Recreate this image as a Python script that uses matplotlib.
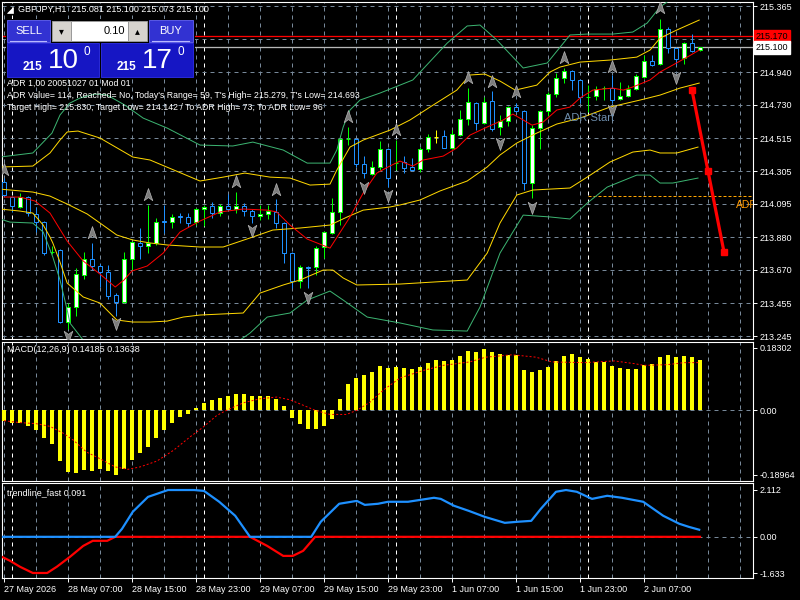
import numpy as np
import matplotlib.pyplot as plt
from matplotlib.patches import Rectangle, Polygon
from matplotlib.path import Path
from matplotlib.transforms import blended_transform_factory

plt.rcParams['font.family'] = ['Liberation Sans', 'DejaVu Sans']

# ---------------- data (GBPJPY H1, 27 May 23:00 .. 2 Jun 14:00) ----------------
opens = [214.234, 214.138, 214.074, 214.138, 214.029, 213.977, 213.783, 213.798, 213.335, 213.431,
         213.637, 213.740, 213.695, 213.656, 213.508, 213.463, 213.740, 213.843, 213.823, 213.843,
         213.984, 213.977, 214.016, 214.010, 213.977, 214.061, 214.080, 214.035, 214.080, 214.061,
         214.080, 214.048, 214.016, 214.029, 214.042, 213.971, 213.778, 213.598, 213.688, 213.688,
         213.817, 213.907, 214.042, 214.509, 214.511, 214.350, 214.286, 214.331, 214.446, 214.354,
         214.363, 214.331, 214.318, 214.446, 214.523, 214.530, 214.453, 214.536, 214.639, 214.742,
         214.613, 214.755, 214.588, 214.626, 214.716, 214.690, 214.228, 214.581, 214.690, 214.800,
         214.902, 214.947, 214.890, 214.778, 214.787, 214.836, 214.838, 214.768, 214.787, 214.832,
         214.909, 215.012, 214.992, 215.217, 215.095, 215.031, 215.127, 215.081]
highs = [214.260, 214.144, 214.164, 214.144, 214.074, 213.984, 213.823, 213.804, 213.457, 213.682,
         213.785, 213.843, 213.708, 213.701, 213.521, 213.785, 213.855, 213.939, 214.087, 214.003,
         214.087, 214.029, 214.035, 214.035, 214.067, 214.087, 214.106, 214.093, 214.157, 214.170,
         214.099, 214.061, 214.087, 214.087, 214.125, 213.977, 213.785, 213.701, 213.695, 213.823,
         213.920, 214.132, 214.517, 214.588, 214.517, 214.401, 214.369, 214.498, 214.453, 214.504,
         214.401, 214.389, 214.459, 214.543, 214.568, 214.568, 214.568, 214.697, 214.838, 214.748,
         214.780, 214.819, 214.665, 214.723, 214.742, 214.697, 214.600, 214.697, 214.812, 214.934,
         214.967, 214.954, 214.896, 214.857, 214.851, 214.851, 214.922, 214.877, 214.857, 214.928,
         215.050, 215.050, 215.281, 215.230, 215.102, 215.134, 215.185, 215.100]
lows = [214.138, 214.042, 214.067, 214.016, 213.913, 213.765, 213.772, 213.329, 213.290, 213.373,
        213.611, 213.669, 213.560, 213.483, 213.373, 213.457, 213.669, 213.740, 213.778, 213.830,
        213.907, 213.939, 213.971, 213.945, 213.958, 213.952, 214.003, 214.016, 214.048, 214.035,
        214.016, 213.971, 213.990, 213.997, 213.939, 213.714, 213.553, 213.553, 213.553, 213.637,
        213.746, 213.900, 213.958, 214.472, 214.331, 214.260, 214.279, 214.311, 214.202, 214.311,
        214.292, 214.305, 214.299, 214.427, 214.485, 214.453, 214.446, 214.530, 214.600, 214.568,
        214.607, 214.562, 214.536, 214.594, 214.684, 214.183, 214.132, 214.446, 214.658, 214.780,
        214.870, 214.825, 214.742, 214.684, 214.761, 214.761, 214.742, 214.761, 214.780, 214.825,
        214.902, 214.980, 214.986, 215.063, 214.986, 214.992, 215.069, 215.073]
closes = [214.151, 214.080, 214.138, 214.035, 213.977, 213.778, 213.785, 213.335, 213.431, 213.643,
          213.740, 213.695, 213.656, 213.502, 213.463, 213.740, 213.849, 213.823, 213.843, 213.977,
          213.977, 214.010, 214.010, 213.971, 214.061, 214.074, 214.035, 214.080, 214.061, 214.080,
          214.048, 214.016, 214.029, 214.048, 213.971, 213.778, 213.598, 213.688, 213.682, 213.810,
          213.913, 214.042, 214.511, 214.511, 214.350, 214.292, 214.331, 214.446, 214.260, 214.356,
          214.324, 214.311, 214.446, 214.523, 214.523, 214.453, 214.543, 214.639, 214.748, 214.613,
          214.748, 214.575, 214.626, 214.716, 214.690, 214.228, 214.581, 214.690, 214.800, 214.902,
          214.947, 214.890, 214.780, 214.780, 214.832, 214.838, 214.761, 214.787, 214.832, 214.915,
          215.012, 214.986, 215.217, 215.095, 215.024, 215.127, 215.076, 215.100]

# moving average (red) and bollinger bands, read at sample bars
ma_idx = [0, 2, 3.9, 5.75, 7.9, 9.9, 12, 13.9, 15, 16, 17.9, 19.9, 21, 22, 24.5, 27, 29.9, 32.9, 34.1,
          35.75, 37.9, 40.75, 43.25, 44.9, 46.6, 48, 49.5, 51.1, 52.4, 54.9, 56.6, 58.25, 60.4, 62.4,
          63.6, 64.9, 66, 67.4, 69.1, 70.75, 72, 73.6, 76.1, 77.4, 78.6, 80.75, 82, 83.6, 85.4, 86.9]
ma_val = [214.138, 214.138, 214.112, 214.035, 213.855, 213.727, 213.643, 213.560, 213.605, 213.663,
          213.695, 213.778, 213.849, 213.913, 213.984, 214.042, 214.061, 214.054, 214.042, 213.958,
          213.868, 213.810, 214.010, 214.164, 214.292, 214.331, 214.369, 214.337, 214.376, 214.401,
          214.453, 214.536, 214.588, 214.633, 214.671, 214.633, 214.600, 214.620, 214.697, 214.716,
          214.774, 214.825, 214.838, 214.825, 214.845, 214.890, 214.941, 214.986, 215.037, 215.082]

bb_up_idx = [-0.5, 3.6, 5.75, 7, 7.9, 9.25, 12, 16.1, 18.25, 24.5, 27.4, 30.1, 33.25, 35.75, 38.25,
             40.75, 41.6, 43.25, 44.9, 48.25, 50.75, 53.25, 56.6, 58.25, 60.1, 62, 63.9, 66.6, 68.25,
             69.5, 72, 75.75, 79.1, 80.75, 82, 84.1, 86.9]
bb_up_val = [214.331, 214.337, 214.421, 214.504, 214.556, 214.562, 214.517, 214.395, 214.376, 214.241,
             214.266, 214.292, 214.266, 214.260, 214.215, 214.221, 214.311, 214.459, 214.504, 214.568,
             214.633, 214.716, 214.825, 214.922, 214.928, 214.883, 214.825, 214.857, 214.941, 214.973,
             215.005, 215.018, 215.037, 215.082, 215.159, 215.211, 215.275]

bb_mid_idx = [-0.5, 3.6, 5.75, 7.9, 10.4, 12, 14.1, 16.1, 18.25, 20.4, 24.5, 27.4, 30.75, 33.6, 37,
              40.75, 42.9, 44.9, 48.25, 49.5, 52, 54.5, 57.9, 60.4, 62, 64.1, 66.6, 69.1, 72, 75.75,
              79.5, 82, 84.5, 86.9]
bb_mid_val = [214.189, 214.170, 214.144, 214.093, 214.029, 213.971, 213.894, 213.862, 213.843, 213.830,
              213.817, 213.817, 213.875, 213.926, 213.939, 213.958, 214.010, 214.054, 214.074, 214.087,
              214.119, 214.177, 214.241, 214.331, 214.408, 214.485, 214.549, 214.607, 214.645, 214.716,
              214.761, 214.793, 214.838, 214.870]

bb_lo_idx = [-0.5, 2, 3.6, 4.9, 5.75, 6.1, 7, 7.9, 9.9, 12, 14.1, 16.1, 18.25, 20.4, 22.4, 24.5,
             29.9, 32, 34.9, 37, 39.9, 41.1, 42.4, 44.1, 49.5, 57.9, 60.4, 62, 64.1, 66.1, 70.75,
             72.9, 75.75, 78.6, 80.75, 82, 84.1, 86.75]
bb_lo_val = [214.061, 214.048, 214.035, 213.958, 213.881, 213.843, 213.720, 213.585, 213.496, 213.457,
             213.348, 213.335, 213.335, 213.341, 213.367, 213.380, 213.393, 213.521, 213.573, 213.605,
             213.669, 213.669, 213.618, 213.573, 213.579, 213.605, 213.778, 213.971, 214.151, 214.183,
             214.196, 214.266, 214.363, 214.427, 214.440, 214.421, 214.421, 214.459]

wide_up_idx = [-0.5, 3.6, 6, 7, 8.25, 9.5, 11.4, 12.9, 15.1, 17.4, 20.4, 24.5, 28.6, 31.1, 34.9,
               37.9, 40.75, 41.6, 42.4, 43.25, 44.5, 47, 51.1, 55.4, 57.9, 59.5, 61.6, 64.9, 67.9,
               70.75, 72.9, 76.1, 78.6, 80.4, 82, 83.25, 86.9]
wide_up_val = [214.395, 214.421, 214.549, 214.665, 214.742, 214.774, 214.800, 214.793, 214.729, 214.645,
               214.581, 214.472, 214.466, 214.491, 214.440, 214.356, 214.356, 214.440, 214.588, 214.697,
               214.761, 214.806, 214.890, 215.127, 215.237, 215.243, 215.147, 214.967, 214.999, 215.179,
               215.185, 215.185, 215.198, 215.256, 215.359, 215.404, 215.481]

wide_lo_idx = [-0.5, 0.75, 3.6, 4.9, 6.1, 7, 7.9, 8.25, 9.9, 12, 18.25, 24.5, 28.6, 30.75, 32.9,
               35.75, 37.9, 40.75, 42.4, 45.4, 49.5, 53.6, 57.9, 59.5, 62, 64.9, 68.25, 70.75, 72.9,
               75.4, 79.1, 80.75, 82, 83.6, 86.75]
wide_lo_val = [213.997, 213.977, 213.971, 213.913, 213.753, 213.605, 213.412, 213.328, 213.219, 213.187,
               213.091, 213.142, 213.187, 213.264, 213.367, 213.393, 213.476, 213.534, 213.476, 213.367,
               213.329, 213.284, 213.277, 213.431, 213.778, 214.022, 214.010, 213.997, 214.099, 214.202,
               214.279, 214.279, 214.228, 214.228, 214.260]

# fractal-like arrows
up_idx = [0, 11, 18, 29, 34, 43, 49, 58, 61, 64, 70, 76, 82]
up_price = [214.311, 213.907, 214.151, 214.234, 214.183, 214.652, 214.568, 214.902, 214.877,
            214.812, 215.031, 214.973, 215.352]
dn_idx = [8, 14, 31, 38, 45, 48, 62, 66, 76, 84]
dn_price = [213.245, 213.328, 213.926, 213.496, 214.202, 214.151, 214.485, 214.074, 214.697, 214.909]

# ADR projection and levels
proj_idx = [86, 88, 90]
proj_price = [214.825, 214.305, 213.785]
adr_low = 214.142
adr_start_idx = 73
ask_line = 215.170
bid_line = 215.100

# MACD
macd_hist = [-0.032, -0.036, -0.036, -0.047, -0.057, -0.081, -0.100, -0.149, -0.181, -0.184,
             -0.176, -0.178, -0.173, -0.179, -0.190, -0.172, -0.145, -0.124, -0.108, -0.081,
             -0.059, -0.037, -0.020, -0.010, 0.008, 0.022, 0.029, 0.037, 0.041, 0.047,
             0.047, 0.043, 0.041, 0.041, 0.034, 0.012, -0.022, -0.041, -0.054, -0.054,
             -0.046, -0.026, 0.032, 0.076, 0.095, 0.103, 0.112, 0.129, 0.123, 0.127,
             0.123, 0.120, 0.127, 0.139, 0.147, 0.144, 0.147, 0.159, 0.173, 0.170,
             0.179, 0.170, 0.164, 0.163, 0.162, 0.117, 0.112, 0.117, 0.127, 0.145,
             0.159, 0.164, 0.156, 0.150, 0.143, 0.142, 0.130, 0.124, 0.121, 0.121,
             0.133, 0.135, 0.156, 0.162, 0.156, 0.159, 0.156, 0.148]
sig_idx = [-0.5, 2, 4, 5.75, 7.4, 8.7, 10.3, 12, 13.9, 15.5, 17, 19.1, 21.2, 23.25, 24.9, 26.6, 27.8,
           29.9, 32, 34.1, 35.75, 37.4, 38.9, 40.75, 42.8, 44.1, 45.75, 47.4, 49.5, 52.4, 54.9, 58.2,
           60.2, 63.5, 64.4, 66.5, 68.5, 72.6, 76.3, 78.8, 80, 82.9, 85, 87]
sig_val = [-0.029, -0.036, -0.039, -0.047, -0.067, -0.088, -0.122, -0.142, -0.166, -0.173, -0.166,
           -0.149, -0.117, -0.078, -0.049, -0.015, 0.0, 0.022, 0.034, 0.039, 0.031, 0.015, 0.0,
           -0.012, -0.012, 0.0, 0.024, 0.059, 0.095, 0.117, 0.132, 0.142, 0.156, 0.163, 0.161,
           0.156, 0.142, 0.140, 0.145, 0.137, 0.132, 0.134, 0.140, 0.140]

# trendline_fast
up_tr_idx = [-0.5, 13.9, 14.75, 16.1, 18, 20.5, 23.75, 25, 26.9, 28.9, 30.75, 38.4, 39.6, 41.9,
             44.1, 45.1, 46.75, 48, 50.5, 53.75, 54.6, 56.25, 58.1, 60.1, 62.6, 64.25, 65.9, 67.1,
             69, 70.25, 71.6, 73.5, 75.4, 77.25, 79.9, 82.4, 84.4, 85.6, 86.9]
up_tr_val = [0, 0, 0.36, 1.13, 1.80, 2.11, 2.11, 2.07, 1.58, 0.95, 0, 0, 0.68, 1.49, 1.62, 1.44,
             1.49, 1.58, 1.58, 1.76, 1.71, 1.40, 1.17, 0.90, 0.63, 0.68, 0.72, 1.26, 2.03, 2.11,
             2.03, 1.71, 1.85, 1.76, 1.58, 0.95, 0.59, 0.45, 0.32]
dn_tr_idx = [-0.5, 0.75, 2, 3.6, 5.4, 6.6, 8.25, 9.9, 11.1, 12.9, 13.9, 30.75, 32.9, 34.9, 36.1,
             37.4, 38.9, 87]
dn_tr_val = [-0.86, -1.08, -1.35, -1.63, -1.63, -1.35, -0.90, -0.41, -0.18, -0.18, 0, 0, -0.41,
             -0.86, -0.86, -0.63, 0, 0]

# axis labels
price_ticks = [215.365, 214.940, 214.730, 214.515, 214.305, 214.095, 213.880, 213.670, 213.455, 213.245]
price_grid = [215.365, 215.155, 214.940, 214.730, 214.515, 214.305, 214.095, 213.880, 213.670, 213.455, 213.245]
time_idx = [0, 8, 16, 24, 32, 40, 48, 56, 64, 72, 80]
time_labels = ['27 May 2026', '28 May 07:00', '28 May 15:00', '28 May 23:00', '29 May 07:00',
               '29 May 15:00', '29 May 23:00', '1 Jun 07:00', '1 Jun 15:00', '1 Jun 23:00', '2 Jun 07:00']
day_sep = [1, 25, 49, 73]

# ---------------- drawing ----------------
PX = 0.72            # one pixel in points
XL = (-0.25, 93.625)
GRID = '#778899'
DASH = (0, (4, 4))

fig = plt.figure(figsize=(8, 6), dpi=100, facecolor='black')
ax = fig.add_axes([2/800, 261/600, 751/800, 337/600])
ax_m = fig.add_axes([2/800, 119.5/600, 751/800, 139/600])
ax_t = fig.add_axes([2/800, 21.7/600, 751/800, 95.6/600])

for a in (ax, ax_m, ax_t):
    a.set_facecolor('black')
    a.set_xlim(*XL)
    for s in a.spines.values():
        s.set_color('white')
        s.set_linewidth(0.8)
    a.yaxis.tick_right()
    a.tick_params(axis='y', colors='white', labelsize=6.5, length=3, width=0.7, pad=2)
    a.tick_params(axis='x', bottom=False, labelbottom=False)
    for g in range(0, 93, 4):
        a.axvline(g, color=GRID, lw=PX, ls=DASH, zorder=1)
    for d in day_sep:
        a.axvline(d, color='white', lw=PX, ls=DASH, zorder=1)

# main chart
ax.set_ylim(213.226, 215.391)
for lv in price_grid:
    ax.axhline(lv, color=GRID, lw=PX, ls=DASH, zorder=1)
ax.set_yticks(price_ticks)
ax.set_yticklabels(['%.3f' % p for p in price_ticks])

ax.axhline(ask_line, color='#ff0000', lw=PX * 1.3, zorder=2)
ax.axhline(bid_line, color='#b8b8b8', lw=PX * 1.3, zorder=2)
ax.hlines(adr_low, adr_start_idx, XL[1], color='#ffa500', lw=PX, linestyles=(0, (3, 2)), zorder=2)

for i, (o, h, l, c) in enumerate(zip(opens, highs, lows, closes)):
    if c > o:
        ec, fc = '#00ff00', 'white'
    elif c < o:
        ec, fc = '#1e90ff', 'black'
    else:
        ec, fc = '#ffff00', None
    ax.vlines(i, l, h, color=ec, lw=PX, zorder=3)
    if fc is None:
        ax.hlines(o, i - 0.3, i + 0.3, color=ec, lw=PX, zorder=4)
    else:
        ax.add_patch(Rectangle((i - 0.27, min(o, c)), 0.54, abs(c - o),
                               facecolor=fc, edgecolor=ec, lw=PX, zorder=4))

ax.plot(wide_up_idx, wide_up_val, color='#3cb371', lw=PX, zorder=5)
ax.plot(wide_lo_idx, wide_lo_val, color='#3cb371', lw=PX, zorder=5)
ax.plot(bb_up_idx, bb_up_val, color='#ffd700', lw=PX, zorder=5)
ax.plot(bb_mid_idx, bb_mid_val, color='#ffd700', lw=PX, zorder=5)
ax.plot(bb_lo_idx, bb_lo_val, color='#ffd700', lw=PX, zorder=5)
ax.plot(ma_idx, ma_val, color='#ff0000', lw=PX, zorder=5)

up_arrow = Path([(0, 1), (0.62, -0.75), (0, -0.3), (-0.62, -0.75), (0, 1)],
                [Path.MOVETO, Path.LINETO, Path.LINETO, Path.LINETO, Path.CLOSEPOLY])
dn_arrow = Path([(0, -1), (0.62, 0.75), (0, 0.3), (-0.62, 0.75), (0, -1)],
                [Path.MOVETO, Path.LINETO, Path.LINETO, Path.LINETO, Path.CLOSEPOLY])
ax.plot(up_idx, up_price, ls='none', marker=up_arrow, ms=10, mfc='#7c7c7c', mec='#b4b4b4', mew=0.5, zorder=6)
ax.plot(dn_idx, dn_price, ls='none', marker=dn_arrow, ms=10, mfc='#7c7c7c', mec='#b4b4b4', mew=0.5, zorder=6)

ax.plot(proj_idx, proj_price, color='#ff0000', lw=2.3, marker='s', ms=5, zorder=7)
ax.text(70, 214.645, 'ADR Start', color='#6f8fae', fontsize=8, va='center', ha='left', zorder=7)
ax.text(91.5, 214.09, 'ADR', color='#ff9900', fontsize=7.5, va='center', ha='left', zorder=7, clip_on=True)

tr = blended_transform_factory(ax.transAxes, ax.transData)
ax.text(1.004, ask_line, '215.170', transform=tr, fontsize=6.5, color='black', va='center', ha='left',
        bbox=dict(boxstyle='square,pad=0.2', fc='#ff0000', ec='#ff0000'), clip_on=False, zorder=10)
ax.text(1.004, bid_line, '215.100', transform=tr, fontsize=6.5, color='black', va='center', ha='left',
        bbox=dict(boxstyle='square,pad=0.2', fc='white', ec='white'), clip_on=False, zorder=10)

# MACD panel
ax_m.set_ylim(-0.2058, 0.202)
ax_m.axhline(0, color=GRID, lw=PX, ls=DASH, zorder=1)
ax_m.bar(range(len(macd_hist)), macd_hist, width=0.42, color='#ffff00', zorder=3)
ax_m.plot(sig_idx, sig_val, color='#ff0000', lw=PX, ls=(0, (2, 2)), zorder=4)
ax_m.set_yticks([0.18302, 0, -0.18964])
ax_m.set_yticklabels(['0.18302', '0.00', '-0.18964'])

# trendline panel
ax_t.set_ylim(-1.87, 2.44)
ax_t.axhline(0, color=GRID, lw=PX, ls=DASH, zorder=1)
ax_t.plot(dn_tr_idx, dn_tr_val, color='#ff0000', lw=1.6, zorder=3)
ax_t.plot(up_tr_idx, up_tr_val, color='#1e90ff', lw=1.6, zorder=4)
ax_t.set_yticks([2.112, 0, -1.633])
ax_t.set_yticklabels(['2.112', '0.00', '-1.633'])
ax_t.set_xticks(time_idx)
ax_t.set_xticklabels(time_labels)
ax_t.tick_params(axis='x', bottom=True, labelbottom=True, colors='white', labelsize=6.5,
                 length=3, width=0.7, pad=1.5)
for lbl in ax_t.get_xticklabels():
    lbl.set_ha('left')

# ---------------- overlay: header texts and one-click panel ----------------
ui = fig.add_axes([0, 0, 1, 1], zorder=10)
ui.set_xlim(0, 800)
ui.set_ylim(600, 0)
ui.axis('off')
ui.patch.set_alpha(0)

ui.add_patch(Polygon([(7, 13), (13, 13), (13, 7)], closed=True, fc='white', ec='white', lw=0.5))
ui.text(18, 9.5, 'GBPJPY,H1  215.081 215.100 215.073 215.100', color='white', fontsize=6.5, va='center')

def box(x0, y0, x1, y1, fc, ec=None):
    ui.add_patch(Rectangle((x0, y0), x1 - x0, y1 - y0, facecolor=fc, edgecolor=ec or fc, lw=0.7))

box(6, 19, 194, 78, 'black')
box(7, 20, 50, 42, '#3232d2', '#5a5ae6')
box(149, 20, 193, 42, '#3232d2', '#5a5ae6')
ui.plot([10, 46], [40.5, 40.5], color='#b8b8ff', lw=0.8)
ui.plot([152, 189], [40.5, 40.5], color='#b8b8ff', lw=0.8)
ui.text(28.5, 30.5, 'SELL', color='white', fontsize=8, ha='center', va='center')
ui.text(171, 30.5, 'BUY', color='white', fontsize=8, ha='center', va='center')
box(52, 21, 71, 41, '#d6d3ce', '#9a9a9a')
box(71, 21, 128, 41, 'white', '#9a9a9a')
box(128, 21, 147, 41, '#d6d3ce', '#9a9a9a')
ui.text(61.5, 31, '▾', color='black', fontsize=7, ha='center', va='center')
ui.text(137.5, 31, '▴', color='black', fontsize=7, ha='center', va='center')
ui.text(125, 31, '0.10', color='black', fontsize=8, ha='right', va='center')

box(7, 43, 99, 77, '#1616c4', '#2a2ad8')
box(101, 43, 193, 77, '#1616c4', '#2a2ad8')
ui.text(23, 70, '215', color='white', fontsize=8.5, fontweight='bold', va='baseline')
ui.text(48, 68.5, '10', color='white', fontsize=20, va='baseline')
ui.text(83, 55, '0', color='white', fontsize=8.5, va='baseline')
ui.text(117, 70, '215', color='white', fontsize=8.5, fontweight='bold', va='baseline')
ui.text(142, 68.5, '17', color='white', fontsize=20, va='baseline')
ui.text(178, 55, '0', color='white', fontsize=8.5, va='baseline')

ui.text(7, 83.5, 'ADR 1,00 20051027 01 Mod 01', color='white', fontsize=6.3, va='center')
ui.text(7, 95.5, "ADR Value= 114, Reached= No, Today's Range= 59, T's High= 215.279, T's Low= 214.693",
        color='white', fontsize=6.3, va='center')
ui.text(7, 108, 'Target High= 215.830, Target Low= 214.142 / To ADR High= 73, To ADR Low= 96',
        color='white', fontsize=6.3, va='center')
ui.text(7, 350, 'MACD(12,26,9) 0.14185 0.13638', color='white', fontsize=6.5, va='center')
ui.text(7, 492.5, 'trendline_fast 0.091', color='white', fontsize=6.5, va='center')

fig.savefig('out.png', dpi=100, facecolor='black')
